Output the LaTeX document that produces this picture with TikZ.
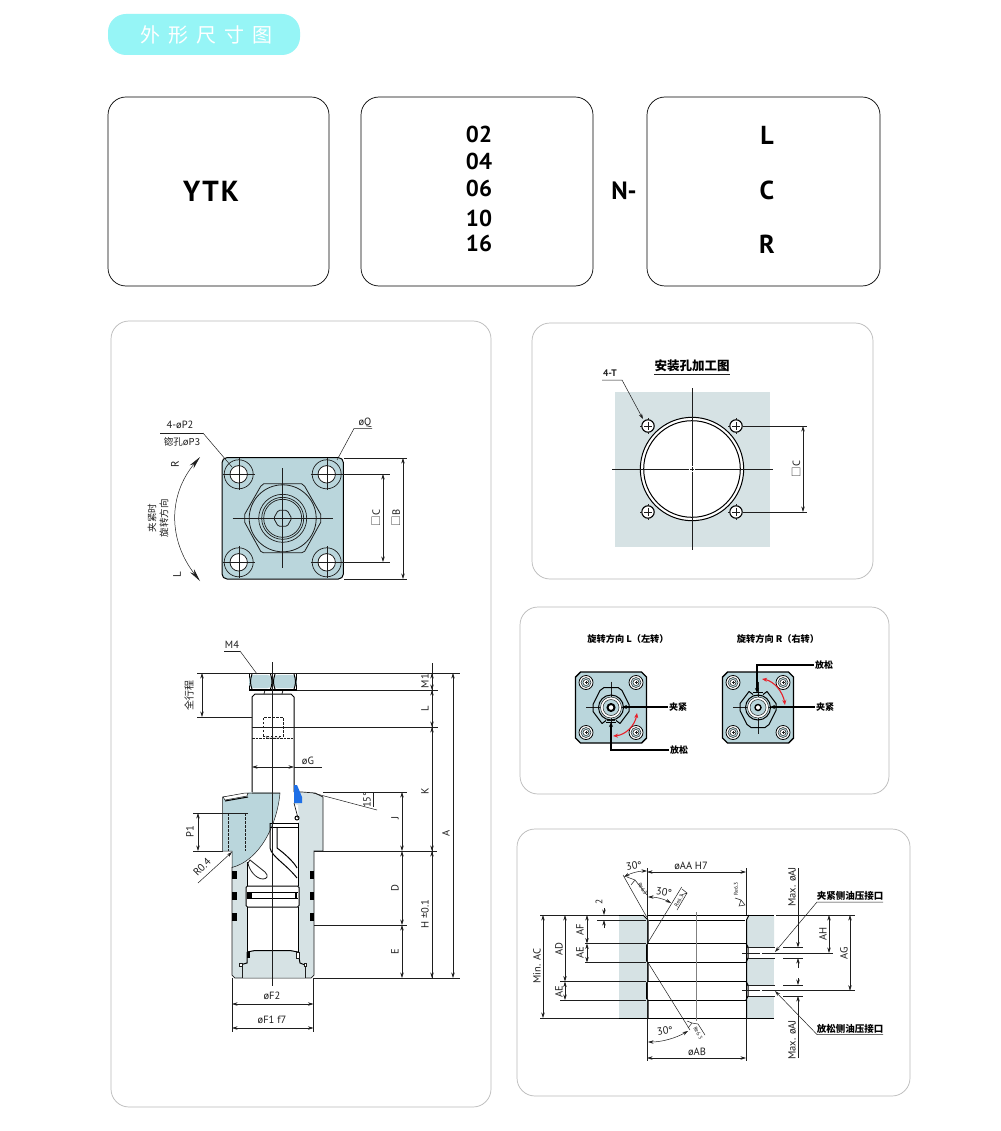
\documentclass[tikz,border=0pt]{standalone}
\usepackage{fontspec}
\setmainfont{PT Sans}
\newfontfamily\cjk{Noto Sans CJK SC}
\usetikzlibrary{arrows.meta,calc}
\definecolor{pill}{HTML}{96F5F6}
\definecolor{plate}{HTML}{BAD6DC}
\definecolor{graybody}{HTML}{D6E2E4}
\definecolor{ink}{HTML}{1E1E1E}
\definecolor{panel}{HTML}{B9B9B9}
\definecolor{sealblue}{HTML}{1E6FE6}
\definecolor{redarrow}{HTML}{E8202A}
\newcommand{\fs}[1]{\fontsize{#1}{#1}\selectfont}
\tikzset{
 thin line/.style={draw=ink,line width=0.5pt},
 body line/.style={draw=black,line width=1pt},
 heavy line/.style={draw=black,line width=1.4pt},
 center line/.style={draw=ink,line width=0.5pt},
 dim/.style={draw=ink,line width=0.5pt,{Stealth[length=5.5pt,width=3.4pt]}-{Stealth[length=5.5pt,width=3.4pt]}},
 lead/.style={draw=ink,line width=0.5pt,-{Stealth[length=5.5pt,width=3.4pt]}},
 codebox/.style={draw=black,line width=0.7pt,rounded corners=18pt},
 panelbox/.style={draw=panel,line width=0.7pt,rounded corners=18pt},
 lbl/.style={inner sep=0pt,text=ink,font=\fs{10.5}},
 lblv/.style={lbl,rotate=90},
 cn/.style={inner sep=0pt,text=ink,font=\cjk\fs{9.5}},
 cnb/.style={inner sep=0pt,text=black,font=\cjk\bfseries\fs{9}},
 code/.style={inner sep=0pt,text=black,font=\bfseries\fs{23}},
 tiny/.style={inner sep=0pt,text=ink,font=\fs{5.5}},
}
\newcommand{\hlin}[3]{\draw[thin line] (#1,#3) -- (#2,#3);}
\newcommand{\vlin}[3]{\draw[thin line] (#3,#1) -- (#3,#2);}
\newcommand{\miniplate}[3]{%
 \begin{scope}[shift={(#1,#2)}]
 \draw[fill=plate,heavy line] (-30.5,-35.5) -- (30.5,-35.5) -- (35.5,-30.5) -- (35.5,30.5) -- (30.5,35.5) -- (-30.5,35.5) -- (-35.5,30.5) -- (-35.5,-30.5) -- cycle;
 \foreach \a/\b in {-25/-25,25/-25,-25/25,25/25}{
  \draw[black,line width=0.8pt,fill=white] (\a,\b) circle (7);
  \draw[thin line,fill=plate] (\a,\b) circle (5);
  \draw[thin line,fill=white] (\a,\b) circle (3);
  \draw[thin line] (\a-1.5,\b) -- (\a+1.5,\b) (\a,\b-1.5) -- (\a,\b+1.5);
 }
 \draw[center line] (-25,0) -- (25,0) (0,-26) -- (0,26);
 \begin{scope}[yscale=#3]
 \draw[body line] (-9,16) -- (-18,4) -- (-18,-3) -- (-11,-17) -- (-7,-20) -- (7,-20) -- (11,-17) -- (18,-3) -- (18,4) -- (9,16);
 \draw[body line] (-9,16) -- (-5,13) (9,16) -- (5,13);
 \draw[black,line width=1pt] (-5,15) -- (5,15);
 \draw[thin line] (-4,12.5) -- (4,12.5);
 \end{scope}
 \draw[body line] (0,0) circle (12.5);
 \draw[thin line,fill=white] (0,0) circle (10.5);
 \draw[thin line,fill=plate] (0,0) circle (8);
 \end{scope}}
\begin{document}
\begin{tikzpicture}[x=1pt,y=-1pt]
\useasboundingbox[fill=white] (0,0) rectangle (1000,1131);
% header
\fill[pill,rounded corners=18pt] (108,14) rectangle (300,55);
\node[inner sep=0pt,text=white,font=\cjk\fs{20}] (hd) at (206,35) {外\hspace{8pt}形\hspace{8pt}尺\hspace{8pt}寸\hspace{8pt}图};
% code boxes
\draw[codebox] (108,97) rectangle (329,286);
\draw[codebox] (361,97) rectangle (593,286);
\draw[codebox] (647,97) rectangle (880,286);
\node[code,font=\bfseries\fs{29}] (ytk) at (211,191) {Y\hspace{2pt}T\hspace{2pt}K};
\node[code] (c02) at (479,134) {02};
\node[code] (c04) at (479,161) {04};
\node[code] (c06) at (479,188) {06};
\node[code] (c10) at (479,218) {10};
\node[code] (c16) at (479,243) {16};
\node[code,font=\bfseries\fs{25}] (nd) at (624,191) {N-};
\node[code,font=\bfseries\fs{26}] (sl) at (767,135) {L};
\node[code,font=\bfseries\fs{26}] (sc) at (767,190) {C};
\node[code,font=\bfseries\fs{26}] (sr) at (767,244) {R};
% panels
\draw[panelbox] (111,321) rectangle (491,1107);
\draw[panelbox] (532,323) rectangle (873,579);
\draw[panelbox] (520,607) rectangle (889,794);
\draw[panelbox] (517,829) rectangle (910,1096);

%%%%% top view
\begin{scope}[shift={(282.7,518.3)}]
 \draw[fill=plate,body line,rounded corners=5pt] (-60.7,-60.7) rectangle (60.7,60.7);
 \foreach \a/\b in {-44/-44,44/-44,-44/44,44/44}{
  \draw[thin line,line width=0.7pt] (\a,\b) circle (14.5);
  \draw[thin line,fill=white,line width=0.8pt] (\a,\b) circle (8.7);
  \draw[center line,line width=0.35pt] (\a-16,\b) -- (\a+16,\b) (\a,\b-16) -- (\a,\b+16);
 }
 \draw[thin line,line width=0.8pt] (-19,-34.5) -- (19,-34.5) -- (22,-32) -- (38,-4) -- (38,4) -- (22,33) -- (19,34.5) -- (-19,34.5) -- (-22,33) -- (-38,4) -- (-38,-4) -- (-22,-32) -- cycle;
 \draw[thin line,line width=0.8pt] (0,0) circle (33.5);
 \draw[thin line,line width=0.7pt] (0,0) circle (24);
 \draw[thin line,line width=0.7pt] (0,0) circle (21);
 \draw[thin line,line width=0.7pt] (0,0) circle (19);
 \draw[thin line,line width=0.8pt,rounded corners=1.5pt] (-9,0) -- (-4.5,-8) -- (4.5,-8) -- (9,0) -- (4.5,8) -- (-4.5,8) -- cycle;
 \draw[center line] (-50,0) -- (50,0) (0,-50) -- (0,50);
\end{scope}
\hlin{344}{407}{458}\hlin{344}{407}{579}
\hlin{327}{390}{474}\hlin{327}{390}{562}
\draw[dim] (403,458) -- (403,579);
\draw[dim] (383,474) -- (383,562);
\node[lblv] (lc1) at (376,518) {{\cjk □}C};
\node[lblv] (lb1) at (396,518) {{\cjk □}B};
\hlin{160}{203}{433}
\draw[thin line] (203,433) -- (232,467);
\node[lbl] (p2) at (180,425) {4-øP2};
\node[lbl,font=\cjk\fs{9.5}] (p3) at (182,442) {锪孔øP3};
\draw[thin line] (372,428.5) -- (354,428.5) -- (337,460);
\node[lbl] (q) at (365,423) {øQ};
\draw[ink,line width=0.5pt,{Stealth[length=13pt,width=5pt]}-{Stealth[length=13pt,width=5pt]}] (200,457) .. controls (168,495) and (168,540) .. (200,581);
\node[lblv,font=\fs{11}] (rr) at (175,464) {R};
\node[lblv,font=\fs{11}] (ll) at (177,575) {L};
\node[cn,rotate=90] (t1) at (152,518) {夹紧时};
\node[cn,rotate=90] (t2) at (164,518) {旋转方向};

%%%%% side view body
\path[fill=graybody] (223,797) -- (250,792) -- (302,792) -- (315,793) -- (323,797) -- (323,851) -- (314,851) -- (314,975) -- (311,978) -- (235,978) -- (232,975) -- (232,851) -- (223,851) -- cycle;
\fill[white] (247,822) rectangle (298,952);
\fill[white] (272,792) -- (294,792) -- (294,804) -- (298,805) -- (299,822) -- (272,825) -- cycle;
\draw[fill=plate,thin line] (222.5,797) -- (250,793) -- (280,793) .. controls (277,825) and (260,860) .. (232,867.5) -- (232,851) -- (222.5,851) -- cycle;
\draw[thin line,fill=white] (223,797) -- (245,793) -- (248,793) -- (247,796) -- (225,800) -- cycle;
\draw[black,line width=1pt] (225,801) -- (248,797);
\draw[thin line,dashed,dash pattern=on 2.5pt off 1.5pt] (228,813) -- (228,851) (245,813) -- (245,851) (228,813) -- (247,813);
\draw[thin line,line width=0.7pt] (280,793) -- (252,793) (294,792) -- (302,792) -- (315,793) -- (323,797) -- (323,851) -- (314,851) -- (314,975) -- (311,978) -- (235,978) -- (232,975) -- (232,867);
% rod
\draw[body line,fill=white] (252,792) -- (252,697) -- (255,694) -- (291,694) -- (294,697) -- (294,792);
\draw[thin line,line width=0.8pt] (264,694) -- (265,690) (282,694) -- (283,690);
\draw[thin line,dashed,dash pattern=on 2.5pt off 1.5pt] (263,736) -- (263,717) -- (283,717) -- (283,736) -- (263,736);
\draw[thin line] (266,736) -- (267,738) -- (279,738) -- (280,736);
\draw[thin line,dashed,dash pattern=on 2.5pt off 1pt,line width=0.7pt] (252,738.5) -- (294,738.5);
% nut
\fill[black] (249,673) rectangle (297,690.5);
\fill[white] (250.3,674.3) rectangle (295.7,689.2);
\draw[plate,fill=plate,rounded corners=3pt] (251,675) .. controls (249,680) and (249,684) .. (251,688) -- (270,688) .. controls (272,684) and (272,680) .. (270,675) -- cycle;
\draw[plate,fill=plate,rounded corners=3pt] (275,675) .. controls (273,680) and (273,684) .. (275,688) -- (294.5,688) .. controls (296.5,684) and (296.5,680) .. (294.5,675) -- cycle;
\draw[body line] (270.5,674) .. controls (272.5,680) and (272.5,684) .. (270.5,689);
\draw[body line] (275,674) .. controls (273,680) and (273,684) .. (275,689);
\draw[body line] (252,674) .. controls (250,680) and (250,684) .. (252,689);
\draw[body line] (294,674) .. controls (296,680) and (296,684) .. (294,689);
% seal, o ring
\fill[sealblue] (294,785) -- (297,785) -- (302,797) -- (302,803) -- (294,803) -- cycle;
\draw[black,fill=white,line width=1pt] (297,818) circle (2);
% inner piston lines
\draw[body line] (270,823) -- (298,823) (270,827) -- (298,827);
\draw[body line] (298,823) -- (298,886);
\draw[thin line,line width=0.7pt] (294,803) -- (298,818);
\draw[body line] (277,827) -- (277,848) .. controls (284,853) and (294,862) .. (297,868);
\draw[body line] (270,823) -- (270,848) .. controls (272,857) and (286,864) .. (297,878);
\draw[body line] (247,862) -- (247,886);
\draw[thin line,line width=0.8pt] (250,860) -- (265,872) .. controls (269,876) and (267,879) .. (263,879) .. controls (256,879) and (249,870) .. (248,863) -- cycle;
% piston
\draw[body line,fill=white,rounded corners=1.5pt] (246,886) rectangle (299,907);
\draw[body line] (247,892) -- (298,892) (247,898) -- (298,898);
\fill[black] (247,892) rectangle (252,898);
\fill[black] (295,892) rectangle (297,898);
\draw[body line] (247,907) -- (247,952) (298,907) -- (298,952);
% bottom cap
\path[fill=graybody] (247,963) -- (247,952) -- (255,950) -- (290,950) -- (298,952) -- (300,963) -- (305,966) -- (305,977.5) -- (242,977.5) -- (242,966) -- cycle;
\draw[body line] (247,952) -- (255,950.5) -- (290,950.5) -- (298,952) (247,952) -- (247,963) -- (240,965) (298,952) -- (300,963) -- (305,965);
\draw[thin line,line width=0.7pt] (242,966) -- (242,978) (305,966) -- (305,978);
\fill[black] (247,952) rectangle (250,958);
\draw[thin line,fill=white] (296,952) rectangle (299,958);
\draw[thin line,fill=white] (239.5,963.5) rectangle (242,966);
\draw[thin line,fill=white] (304,963.5) rectangle (306.5,966);
\foreach \y in {871,892,913}{\fill[black] (232,\y) rectangle (237,\y+8);\fill[black] (309.5,\y) rectangle (314,\y+8);}
\draw[center line] (272.7,662) -- (272.7,986);
% dimensions side
\hlin{197}{297}{673}\hlin{297}{460}{673}
\hlin{297}{438}{690}\hlin{197}{252}{717}\hlin{252}{438}{727}
\hlin{323}{407}{792}\hlin{193}{223}{851}\hlin{314}{437}{851}
\hlin{314}{407}{925}\hlin{314}{460}{978}\hlin{193}{248}{813}
\draw[dim] (202,673) -- (202,717);
\node[cn,rotate=90,font=\cjk\fs{10}] (qx) at (189,695) {全行程};
\draw[thin line] (432,663) -- (432,978);
\draw[dim] (432,673) -- (432,690);
\draw[dim] (432,690) -- (432,727);
\draw[dim] (432,727) -- (432,851);
\draw[dim] (432,851) -- (432,978);
\draw[dim] (453,673) -- (453,978);
\draw[dim] (402,792) -- (402,851);
\draw[dim] (402,851) -- (402,925);
\draw[dim] (402,925) -- (402,978);
\draw[dim] (198,813) -- (198,851);
\node[lblv] (m1) at (425,681) {M1};
\node[lblv] (lL) at (425,709) {L};
\node[lblv] (k) at (425,791) {K};
\node[lblv] (a) at (446,833) {A};
\node[lblv] (j) at (395,818) {J};
\node[lblv] (d) at (395,888) {D};
\node[lblv] (e) at (395,952) {E};
\node[lblv] (h) at (425,914) {H ±0.1};
\node[lblv] (p1) at (190,832) {P1};
\draw[thin line] (313,793) -- (377,810);
\draw[thin line] (373,793) -- (373,807);
\hlin{358}{378}{792}
\node[lblv] (a15) at (367,800) {15°};
\draw[lead] (198,883) -- (232,852);
\node[lbl,rotate=45] (r04) at (202,867) {R0.4};
\draw[dim] (252,767) -- (294,767);
\hlin{294}{322}{767}
\node[lbl] (og) at (308,761) {øG};
\hlin{224}{240}{651}
\draw[thin line] (240,651) -- (257,674);
\node[lbl] (m4) at (232,645) {M4};
\vlin{978}{1032}{232}\vlin{978}{1032}{313.5}
\draw[dim] (232,1004) -- (313.5,1004);
\draw[dim] (232,1028) -- (313.5,1028);
\node[lbl] (f2) at (272,996) {øF2};
\node[lbl] (f1) at (272,1020) {øF1 f7};

%%%%% mount hole view
\fill[graybody] (615,392) rectangle (770,547);
\draw[body line,fill=white] (692,469) circle (51.7);
\draw[body line,fill=white] (692,469) circle (48.3);
\foreach \a/\b in {648/426,736/426,648/512,736/512}{
 \draw[black,line width=1.1pt,fill=white] (\a,\b) circle (6.2);
 \draw[thin line] (\a-4,\b) -- (\a+4,\b) (\a,\b-4) -- (\a,\b+4) (\a,\b-8) -- (\a,\b-6) (\a-8,\b) -- (\a-6,\b) (\a,\b+6) -- (\a,\b+8);
}
\draw[center line] (692,388) -- (692,466) (692,472) -- (692,550) (612,469) -- (689,469) (695,469) -- (773,469) (690,469) -- (694,469) (692,467) -- (692,471);
\node[cnb,font=\cjk\bfseries\fs{12.5}] (mt) at (692,366) {安装孔加工图};
\draw[ink,line width=0.8pt] (654,374.5) -- (730,374.5);
\node[lbl,font=\bfseries\fs{9.5}] (t4) at (610,373) {4-T};
\draw[lead] (602,380) -- (622,380) -- (643,419);
\hlin{743}{807}{426}\hlin{743}{807}{512}
\draw[dim] (803,426) -- (803,512);
\node[lblv] (lc2) at (796,469) {{\cjk □}C};

%%%%% rotation views
\node[cnb,font=\cjk\bfseries\fs{9.2}] (rl) at (628,639) {旋转方向 L（左转）};
\node[cnb,font=\cjk\bfseries\fs{9.2}] (rr2) at (778,639) {旋转方向 R（右转）};
\miniplate{611}{707.5}{1}
\miniplate{758}{707.5}{-1}
\draw[black,line width=2pt,fill=white] (611,707.5) circle (3.5);
\draw[black,line width=1.4pt,fill=white] (758,707.5) circle (3);
\node[cnb] (ck1) at (678,707) {夹紧};
\node[cnb] (rl1) at (679,750) {放松};
\node[cnb] (rl2) at (824,665) {放松};
\node[cnb] (ck2) at (825,707) {夹紧};
\draw[black,line width=1.1pt,-{Stealth[length=5pt,width=4pt]}] (rl1.west) ++(-1,0) -- (611,750) -- (611,722);
\draw[black,line width=1.1pt,-{Stealth[length=5pt,width=4pt]}] (ck1.west) ++(-1,0) -- (622,707);
\draw[black,line width=1.1pt,-{Stealth[length=5pt,width=4pt]}] (rl2.west) ++(-1,0) -- (757,665) -- (757,693);
\draw[black,line width=1.1pt,-{Stealth[length=5pt,width=4pt]}] (ck2.west) ++(-1,0) -- (770,707);
\draw[redarrow,line width=1.1pt,{Stealth[length=5pt,width=4pt]}-{Stealth[length=5pt,width=4pt]}] (637,713) .. controls (635,725) and (626,735) .. (613,736);
\draw[redarrow,line width=1.1pt,{Stealth[length=5pt,width=4pt]}-{Stealth[length=5pt,width=4pt]}] (762,679) .. controls (774,681) and (783,692) .. (785,705);

%%%%% port view
\fill[graybody] (619,915) -- (643,915) -- (647.5,920) -- (647.5,1018) -- (619,1018) -- cycle;
\fill[graybody] (749,915) -- (774,915) -- (774,947) -- (746.5,947) -- (746.5,920) -- cycle;
\fill[graybody] (747,958) rectangle (774,985);
\fill[graybody] (747,996) rectangle (774,1018);
\hlin{540}{619}{915}\hlin{585}{646}{943.5}\hlin{585}{646}{962.5}
\hlin{560}{646}{981.5}\hlin{560}{646}{1000}\hlin{540}{619}{1018}
\hlin{597}{646}{920}
\hlin{776}{855}{915}
\draw[black,line width=1pt] (619,915) -- (643,915) (647,915) -- (774,915) (619,1018) -- (774,1018);
\draw[body line] (649,920) -- (745,920) (647,943.5) -- (746,943.5) (647,962.5) -- (746,962.5) (647,981.5) -- (746,981.5) (647,1000) -- (746,1000);
\draw[body line] (643,915) -- (648,920) -- (648,943.5);
\draw[body line] (648,943.5) -- (646.5,945) -- (646.5,961) -- (648,962.5) -- (648,981.5) -- (646.5,983) -- (646.5,998.5) -- (648,1000) -- (648,1018);
\draw[body line] (749,915) -- (746.5,920) -- (746.5,1018);
\draw[body line] (746,943.5) -- (748,947) -- (748,958) -- (746,962.5) (746,981.5) -- (748,985) -- (748,996) -- (746,1000);
\draw[center line,draw=gray,line width=0.8pt] (696.7,912) -- (696.7,1021);
\hlin{747}{775}{947}\hlin{747}{775}{958}\hlin{747}{775}{985}\hlin{747}{775}{996}
\draw[center line] (742,953) -- (760,953) (762,953) -- (833,953) (742,990.7) -- (760,990.7) (762,990.7) -- (855,990.7);
\hlin{783}{803}{947.5}\hlin{783}{803}{958}\hlin{783}{803}{985}\hlin{783}{803}{996}
\draw[dim] (543,915) -- (543,1018);
\draw[dim] (565,915) -- (565,981.5);
\draw[dim] (587,915) -- (587,943.5);
\draw[dim] (587,943.5) -- (587,962.5);
\draw[dim] (565,981.5) -- (565,1000);
\draw[lead] (604,908) -- (604,915);
\draw[lead] (604,928) -- (604,920);
\node[lblv] (ac) at (537,966) {Min. AC};
\node[lblv] (ad) at (559,949) {AD};
\node[lblv] (af) at (580,930) {AF};
\node[lblv] (ae1) at (580,953) {AE};
\node[lblv] (ae2) at (559,992) {AE};
\node[lblv,font=\fs{9.5}] (two) at (599,902) {2};
\vlin{868}{1061}{647}\vlin{868}{915}{746}\vlin{1018}{1061}{746}
\draw[dim] (647,872) -- (746,872);
\draw[dim] (647,1058) -- (746,1058);
\node[lbl] (aa) at (691,866) {øAA H7};
\node[lbl] (ab) at (697,1052) {øAB};
\draw[thin line] (623,875) -- (646.7,917);
\draw[thin line] (681.7,887) -- (647.7,943);
\draw[thin line] (647.7,962) -- (690,1030);
\draw[dim] (647,871) .. controls (639,871) and (631,873) .. (624,877);
\draw[dim] (648,897) .. controls (656,897) and (664,899) .. (671,903);
\draw[dim] (648,1042) .. controls (662,1042) and (676,1038) .. (688,1031);
\node[lbl,rotate=8] (a30a) at (634,866) {30°};
\node[lbl,rotate=-8] (a30b) at (664,892) {30°};
\node[lbl,rotate=8] (a30c) at (665,1031) {30°};
% surface marks
\draw[thin line] (627,877) -- (635,880) -- (631,885) (635,880) -- (647,895);
\node[tiny,rotate=-60] (s1) at (642.5,889) {Re6.3};
\draw[thin line] (682,889) -- (687,893) -- (681,895) (687,893) -- (677,910);
\node[tiny,rotate=60] (s2) at (679,901) {Re6.3};
\draw[thin line] (687,1021) -- (692,1023) -- (688,1028) (692,1023) -- (698,1024) -- (705,1035);
\node[tiny,rotate=-60] (s3) at (698,1033) {Re6.3};
\draw[thin line] (741,900) -- (745,905) -- (739,906) -- (741,900) (741,900) -- (735,898);
\node[tiny,rotate=90] (rz) at (736,889) {Re6.3};
\draw[dim] (829,915) -- (829,953);
\draw[dim] (850,915) -- (850,990.7);
\node[lblv] (ah) at (823,934) {AH};
\node[lblv] (ag) at (844,953) {AG};
\draw[lead] (798,868) -- (798,947.5);
\draw[lead] (798,968) -- (798,958);
\draw[lead] (798,978) -- (798,985);
\draw[lead] (798,1058) -- (798,996);
\node[lblv] (aj1) at (792,887) {Max. øAJ};
\node[lblv] (aj2) at (792,1040) {Max. øAJ};
\node[cnb,font=\cjk\bfseries\fs{9.5}] (pc) at (850,896) {夹紧侧油压接口};
\node[cnb,font=\cjk\bfseries\fs{9.5}] (po) at (850,1029) {放松侧油压接口};
\draw[lead] (883,902) -- (817,902) -- (775,952);
\draw[lead] (883,1034.5) -- (817,1034.5) -- (775,991);
\end{tikzpicture}
\end{document}
